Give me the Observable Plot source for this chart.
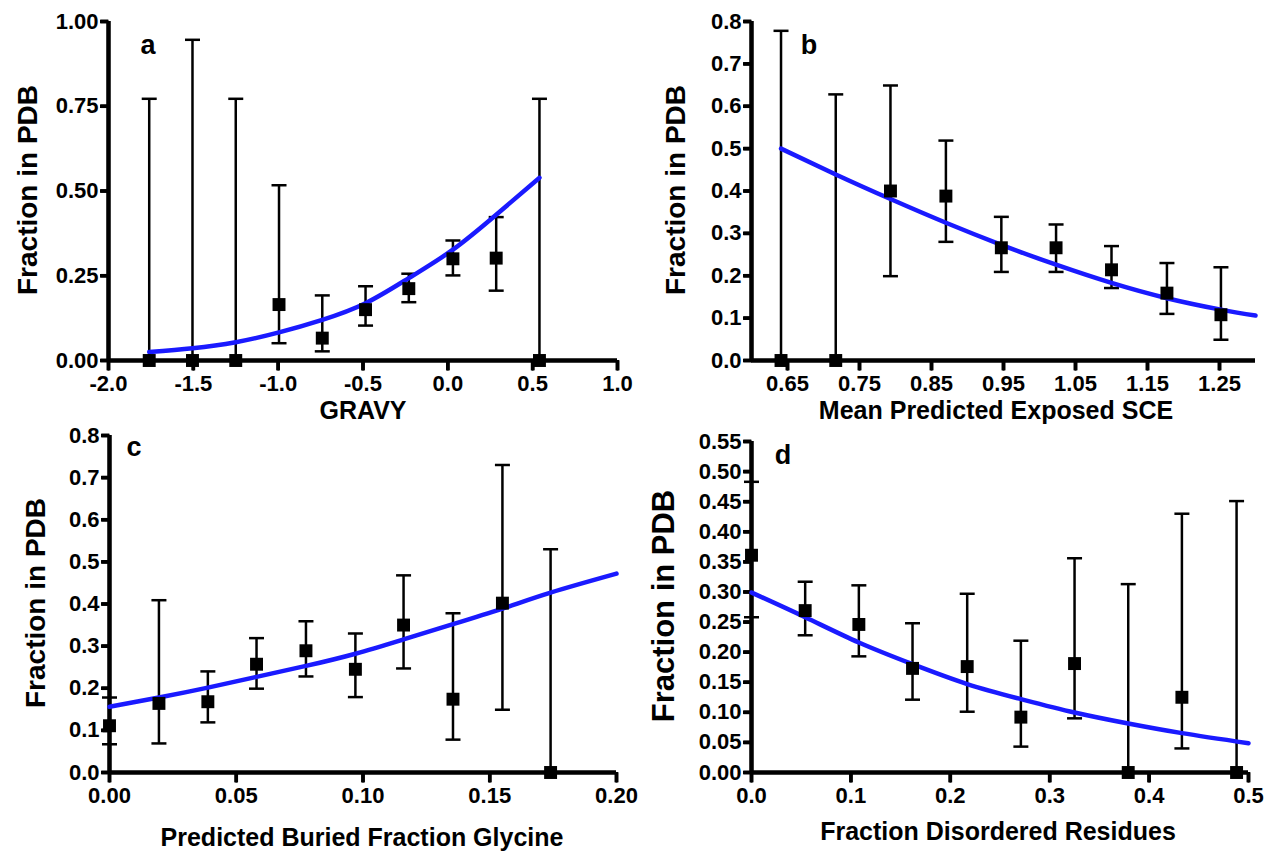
<!DOCTYPE html>
<html><head><meta charset="utf-8">
<script src="https://cdn.jsdelivr.net/npm/d3@7"></script>
<script src="https://cdn.jsdelivr.net/npm/@observablehq/plot@0.6"></script>
<style>
body{margin:0;background:#fff;}
#wrap{position:relative;width:1268px;height:852px;background:#fff;overflow:hidden;}
.panel{position:absolute;}
.lbl{position:absolute;font-family:"Liberation Sans",Arial,Helvetica,sans-serif;font-weight:bold;color:#000;white-space:nowrap;line-height:1;z-index:5;}
</style></head><body><div id="wrap"></div>
<script>
// Panel a: GRAVY
const aX  = [-1.76, -1.505, -1.25, -0.995, -0.74, -0.485, -0.23, 0.03, 0.285, 0.54];
const aY  = [0, 0, 0, 0.165, 0.066, 0.150, 0.212, 0.300, 0.302, 0];
const aLo = [0, 0, 0, 0.051, 0.027, 0.103, 0.172, 0.251, 0.206, 0];
const aHi = [0.772, 0.946, 0.772, 0.517, 0.192, 0.219, 0.256, 0.354, 0.423, 0.772];
const aFitX = [-1.76, -1.505, -1.25, -0.995, -0.74, -0.485, -0.23, 0.03, 0.285, 0.54];
const aFitY = [0.025, 0.036, 0.054, 0.083, 0.12, 0.169, 0.243, 0.327, 0.43, 0.539];
const aXTicks = [-2.0, -1.5, -1.0, -0.5, 0.0, 0.5, 1.0];
const aYTicks = [0, 0.25, 0.5, 0.75, 1.0];

// Panel b: Mean Predicted Exposed SCE
const bX  = [0.641, 0.717, 0.793, 0.870, 0.947, 1.023, 1.100, 1.177, 1.252];
const bY  = [0, 0, 0.400, 0.388, 0.266, 0.266, 0.214, 0.159, 0.108];
const bLo = [0, 0, 0.199, 0.280, 0.209, 0.209, 0.171, 0.110, 0.049];
const bHi = [0.778, 0.628, 0.649, 0.519, 0.339, 0.321, 0.270, 0.230, 0.220];
const bFitX = [0.641, 0.717, 0.793, 0.870, 0.947, 1.023, 1.100, 1.177, 1.252, 1.30];
const bFitY = [0.500, 0.439, 0.381, 0.325, 0.273, 0.226, 0.183, 0.147, 0.120, 0.106];
const bXTicks = [0.65, 0.75, 0.85, 0.95, 1.05, 1.15, 1.25];
const bYTicks = [0, 0.1, 0.2, 0.3, 0.4, 0.5, 0.6, 0.7, 0.8];

// Panel c: Predicted Buried Fraction Glycine
const cX  = [0, 0.0195, 0.0388, 0.058, 0.0775, 0.097, 0.116, 0.1355, 0.155, 0.174];
const cY  = [0.111, 0.164, 0.168, 0.257, 0.289, 0.245, 0.350, 0.174, 0.402, 0];
const cLo = [0.067, 0.069, 0.119, 0.199, 0.228, 0.179, 0.247, 0.078, 0.149, 0];
const cHi = [0.178, 0.409, 0.240, 0.319, 0.359, 0.330, 0.468, 0.378, 0.730, 0.530];
const cFitX = [0, 0.0195, 0.0388, 0.058, 0.0775, 0.097, 0.116, 0.1355, 0.155, 0.174, 0.2];
const cFitY = [0.156, 0.178, 0.2016, 0.227, 0.253, 0.282, 0.316, 0.352, 0.389, 0.427, 0.472];
const cXTicks = [0, 0.05, 0.10, 0.15, 0.20];
const cYTicks = [0, 0.1, 0.2, 0.3, 0.4, 0.5, 0.6, 0.7, 0.8];

// Panel d: Fraction Disordered Residues
const dX  = [0, 0.054, 0.108, 0.162, 0.217, 0.271, 0.325, 0.379, 0.433, 0.488];
const dY  = [0.361, 0.269, 0.246, 0.173, 0.176, 0.092, 0.181, 0, 0.125, 0];
const dLo = [0.258, 0.228, 0.193, 0.121, 0.101, 0.043, 0.090, 0, 0.040, 0];
const dHi = [0.483, 0.317, 0.311, 0.248, 0.297, 0.219, 0.356, 0.313, 0.430, 0.451];
const dFitX = [0, 0.054, 0.108, 0.162, 0.217, 0.271, 0.325, 0.379, 0.433, 0.5];
const dFitY = [0.299, 0.258, 0.216, 0.180, 0.147, 0.122, 0.0997, 0.0814, 0.0654, 0.0487];
const dXTicks = [0, 0.1, 0.2, 0.3, 0.4, 0.5];
const dYTicks = [0, 0.05, 0.10, 0.15, 0.20, 0.25, 0.30, 0.35, 0.40, 0.45, 0.50, 0.55];

const FONT = '"Liberation Sans", Arial, Helvetica, sans-serif';
const BLUE = "#1a1aff";
const rad = size => Math.sqrt(size / Math.PI);
const capSymbol = {draw(ctx, size){ const r = rad(size); ctx.moveTo(-r, 0); ctx.lineTo(r, 0); }};
const xTickSymbol = {draw(ctx, size){ const r = rad(size); ctx.moveTo(0, 0); ctx.lineTo(0, r); }};
const yTickSymbol = {draw(ctx, size){ const r = rad(size); ctx.moveTo(0, 0); ctx.lineTo(-r, 0); }};
const wrap = document.getElementById("wrap");
const labels = [];

function label(text, cx, cy, size, rotate) {
  const el = document.createElement("div");
  el.className = "lbl";
  el.textContent = text;
  el.style.left = cx + "px";
  el.style.top = cy + "px";
  el.style.fontSize = size + "px";
  el.style.transform = "translate(-50%,-50%)" + (rotate ? " rotate(-90deg)" : "");
  labels.push(el);
}

function place(svg, left, top, z) {
  const div = document.createElement("div");
  div.className = "panel";
  div.style.left = left + "px";
  div.style.top = top + "px";
  div.style.zIndex = z;
  div.appendChild(svg);
  wrap.appendChild(div);
}

function panel(cfg) {
  const pts = cfg.x.map((x, i) => ({x, y: cfg.y[i], lo: cfg.lo[i], hi: cfg.hi[i]}));
  const fit = cfg.fx.map((x, i) => ({x, y: cfg.fy[i]}));
  const [x0, x1] = cfg.xDomain, [y0, y1] = cfg.yDomain;
  const xAxisData = [{y: y0, x1: x0, x2: x1}];
  const yAxisData = [{x: x0, y1: y0, y2: y1}];
  const xTickData = cfg.xTicks.map(t => ({x: t, y: y0}));
  const yTickData = cfg.yTicks.map(t => ({x: x0, y: t}));
  const frame = {width: cfg.w, height: cfg.h,
    marginLeft: cfg.ml, marginRight: cfg.mr, marginTop: cfg.mt, marginBottom: cfg.mb,
    style: {fontFamily: FONT, fontWeight: "bold", color: "black", background: "transparent", overflow: "visible"}};
  const axisMarks = [];
  for (const off of [-0.8, 0.8]) {
    axisMarks.push(Plot.ruleY(xAxisData, {y: "y", x1: "x1", x2: "x2", dy: off, strokeWidth: 2.5, stroke: "black"}));
    axisMarks.push(Plot.ruleX(yAxisData, {x: "x", y1: "y1", y2: "y2", dx: off, strokeWidth: 2.5, stroke: "black"}));
    axisMarks.push(Plot.dot(xTickData, {x: "x", y: "y", dx: off * 0.7, symbol: xTickSymbol, r: 10, stroke: "black", fill: "none", strokeWidth: 2.5}));
    axisMarks.push(Plot.dot(yTickData, {x: "x", y: "y", dy: off * 0.7, symbol: yTickSymbol, r: 8, stroke: "black", fill: "none", strokeWidth: 2.5}));
  }
  // data layer (with axis lines drawn like the error bars)
  const data = Plot.plot({...frame,
    x: {domain: cfg.xDomain, label: null, axis: null},
    y: {domain: cfg.yDomain, label: null, axis: null},
    marks: [
      ...axisMarks,
      Plot.ruleX(pts, {x: "x", y1: "lo", y2: "hi", strokeWidth: 2.5, stroke: "black"}),
      Plot.dot(pts, {x: "x", y: "hi", symbol: capSymbol, r: 7.5, stroke: "black", fill: "none", strokeWidth: 2.5}),
      Plot.dot(pts, {x: "x", y: "lo", symbol: capSymbol, r: 7.5, stroke: "black", fill: "none", strokeWidth: 2.5}),
      Plot.line(fit, {x: "x", y: "y", stroke: BLUE, strokeWidth: 4.5, curve: "natural"}),
      Plot.dot(pts, {x: "x", y: "y", symbol: "square", r: 7.3, fill: "black", stroke: "none"})
    ]});
  // axes layer: tick labels plus standard ticks and rules
  const axes = Plot.plot({...frame,
    x: {domain: cfg.xDomain, label: null},
    y: {domain: cfg.yDomain, label: null},
    marks: [
      Plot.axisX({ticks: cfg.xTicks, tickFormat: d => d.toFixed(cfg.xd), tickSize: 10, strokeWidth: 3.5,
        tickPadding: 5, fontSize: 22, fontWeight: "bold"}),
      Plot.axisY({ticks: cfg.yTicks, tickFormat: d => d.toFixed(cfg.yd), tickSize: 8, strokeWidth: 3.5,
        tickPadding: 2, fontSize: 22, fontWeight: "bold"}),
      Plot.ruleY([y0], {strokeWidth: 4, stroke: "black"}),
      Plot.ruleX([x0], {strokeWidth: 4, stroke: "black"})
    ]});
  place(axes, cfg.left, cfg.top, 1);
  place(data, cfg.left, cfg.top, 2);
  label(cfg.letter, cfg.letterPos[0], cfg.letterPos[1], 27, false);
  label(cfg.xLabel, cfg.xlPos[0], cfg.xlPos[1], 25, false);
  label(cfg.yLabel, cfg.ylPos[0], cfg.ylPos[1], cfg.ylSize, true);
}

panel({left: 0, top: 0, w: 634, h: 420, ml: 108, mr: 17, mt: 21, mb: 60,
  x: aX, y: aY, lo: aLo, hi: aHi, fx: aFitX, fy: aFitY,
  xDomain: [-2, 1], yDomain: [0, 1], xTicks: aXTicks, yTicks: aYTicks, xd: 1, yd: 2,
  letter: "a", letterPos: [148, 45], xLabel: "GRAVY", xlPos: [363, 410],
  yLabel: "Fraction in PDB", ylPos: [28, 190], ylSize: 28});

panel({left: 634, top: 0, w: 634, h: 420, ml: 117, mr: 13, mt: 21, mb: 60,
  x: bX, y: bY, lo: bLo, hi: bHi, fx: bFitX, fy: bFitY,
  xDomain: [0.6, 1.3], yDomain: [0, 0.8], xTicks: bXTicks, yTicks: bYTicks, xd: 2, yd: 1,
  letter: "b", letterPos: [809, 45], xLabel: "Mean Predicted Exposed SCE", xlPos: [996, 410],
  yLabel: "Fraction in PDB", ylPos: [676, 190], ylSize: 28});

panel({left: 0, top: 420, w: 634, h: 432, ml: 109, mr: 18, mt: 15, mb: 80,
  x: cX, y: cY, lo: cLo, hi: cHi, fx: cFitX, fy: cFitY,
  xDomain: [0, 0.2], yDomain: [0, 0.8], xTicks: cXTicks, yTicks: cYTicks, xd: 2, yd: 1,
  letter: "c", letterPos: [134, 447], xLabel: "Predicted Buried Fraction Glycine", xlPos: [362, 837],
  yLabel: "Fraction in PDB", ylPos: [36, 603], ylSize: 28});

panel({left: 634, top: 420, w: 634, h: 432, ml: 117, mr: 20, mt: 21, mb: 80,
  x: dX, y: dY, lo: dLo, hi: dHi, fx: dFitX, fy: dFitY,
  xDomain: [0, 0.5], yDomain: [0, 0.55], xTicks: dXTicks, yTicks: dYTicks, xd: 1, yd: 2,
  letter: "d", letterPos: [783, 455], xLabel: "Fraction Disordered Residues", xlPos: [998, 831],
  yLabel: "Fraction in PDB", ylPos: [663, 606], ylSize: 31});

labels.forEach(el => wrap.appendChild(el));
</script></body></html>
